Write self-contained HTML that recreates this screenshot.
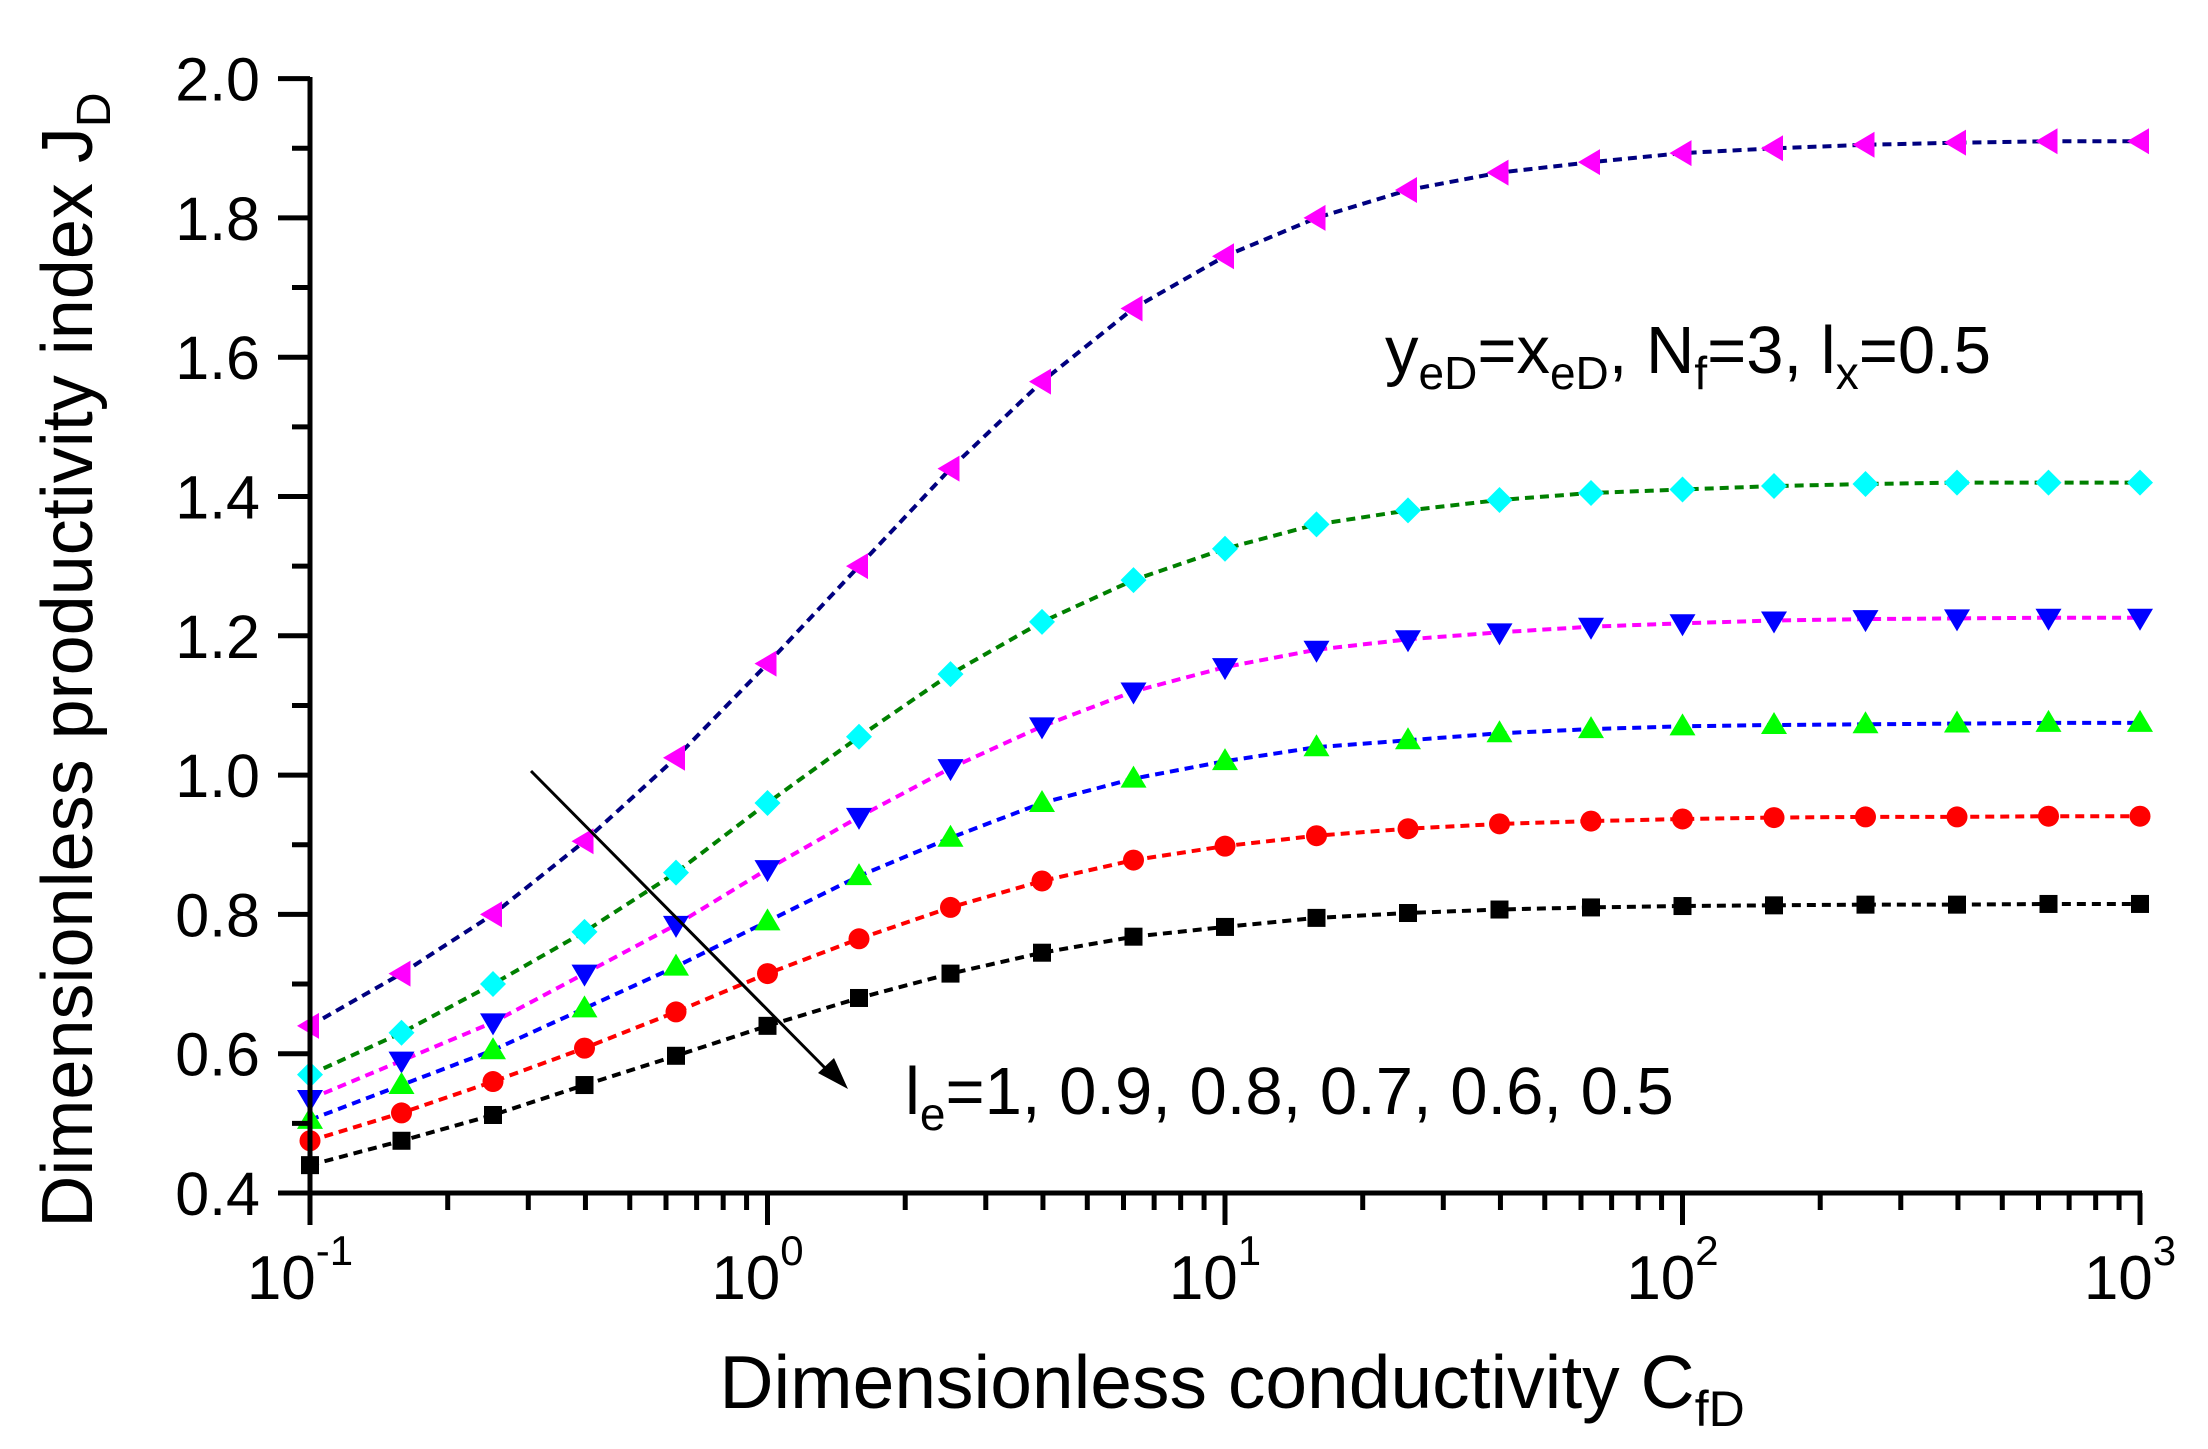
<!DOCTYPE html>
<html><head><meta charset="utf-8">
<style>html,body{margin:0;padding:0;background:#fff}svg{display:block}text{font-family:"Liberation Sans",Arial,sans-serif;fill:#000}</style>
</head><body>
<svg id="s" width="2208" height="1449" viewBox="0 0 2208 1449" xmlns="http://www.w3.org/2000/svg">
<g id="plot"></g>
<g font-size="67">
<text x="1385" y="373">y<tspan font-size="46" dy="16">eD</tspan><tspan dy="-16">=x</tspan><tspan font-size="46" dy="16">eD</tspan><tspan dy="-16">, N</tspan><tspan font-size="46" dy="16">f</tspan><tspan dy="-16">=3, l</tspan><tspan font-size="46" dy="16">x</tspan><tspan dy="-16">=0.5</tspan></text>
<text x="905" y="1114">l<tspan font-size="46" dy="16">e</tspan><tspan dy="-16">=1, 0.9, 0.8, 0.7, 0.6, 0.5</tspan></text>
</g>
<g font-size="72">
<text x="1232" y="1408" text-anchor="middle" font-size="75">Dimensionless conductivity C<tspan font-size="50" dy="18">fD</tspan></text>
<text transform="translate(92,660) rotate(-90)" text-anchor="middle">Dimensionless productivity index J<tspan font-size="48" dy="18">D</tspan></text>
</g>
</svg>
<script>
const X0=310,DEC=457.5,Y0=1193,YU=696.5;
const xp=l=>X0+(l+1)*DEC, yp=v=>Y0-(v-0.4)*YU;
let h='';
const D=[
 {m:'ltri',f:'#ff00ff',l:'#000080',v:[0.64,0.715,0.80,0.905,1.025,1.16,1.30,1.44,1.565,1.67,1.745,1.80,1.84,1.865,1.88,1.893,1.90,1.905,1.908,1.91,1.91]},
 {m:'dia',f:'#00ffff',l:'#008000',v:[0.57,0.63,0.70,0.775,0.86,0.96,1.055,1.145,1.22,1.28,1.325,1.36,1.38,1.395,1.405,1.41,1.415,1.418,1.42,1.42,1.42]},
 {m:'dtri',f:'#0000ff',l:'#ff00ff',v:[0.535,0.59,0.645,0.715,0.785,0.865,0.94,1.01,1.07,1.12,1.155,1.18,1.195,1.205,1.213,1.218,1.222,1.224,1.225,1.226,1.226]},
 {m:'utri',f:'#00ff00',l:'#0000ff',v:[0.505,0.555,0.605,0.665,0.725,0.79,0.855,0.91,0.96,0.995,1.02,1.04,1.05,1.06,1.066,1.07,1.072,1.073,1.074,1.075,1.075]},
 {m:'circ',f:'#ff0000',l:'#ff0000',v:[0.475,0.515,0.56,0.608,0.66,0.715,0.765,0.81,0.848,0.878,0.898,0.913,0.923,0.93,0.934,0.937,0.939,0.94,0.94,0.941,0.941]},
 {m:'sq',f:'#000000',l:'#000000',v:[0.44,0.475,0.512,0.555,0.597,0.64,0.68,0.715,0.745,0.768,0.782,0.795,0.802,0.807,0.81,0.812,0.813,0.814,0.814,0.815,0.815]}];
for(const s of D){
 const pts=s.v.map((v,k)=>[xp(-1+k*0.2),yp(v)]);
 h+=`<polyline points="${pts.map(p=>p[0].toFixed(1)+','+p[1].toFixed(1)).join(' ')}" fill="none" stroke="${s.l}" stroke-width="4" stroke-dasharray="9,6"/>`;
}
for(const s of D){
 s.v.forEach((v,k)=>{const x=xp(-1+k*0.2),y=yp(v),r=13;let e;
  if(s.m=='sq')e=`<rect x="${x-9}" y="${y-9}" width="18" height="18"/>`;
  else if(s.m=='circ')e=`<circle cx="${x}" cy="${y}" r="10.5"/>`;
  else if(s.m=='utri')e=`<polygon points="${x},${y-r} ${x+r},${y+9} ${x-r},${y+9}"/>`;
  else if(s.m=='dtri')e=`<polygon points="${x},${y+r} ${x+r},${y-9} ${x-r},${y-9}"/>`;
  else if(s.m=='ltri')e=`<polygon points="${x-r},${y} ${x+9},${y-r} ${x+9},${y+r}"/>`;
  else e=`<polygon points="${x},${y-r} ${x+r},${y} ${x},${y+r} ${x-r},${y}"/>`;
  h+=e.replace('/>',` fill="${s.f}"/>`);});
}
h+=`<g stroke="#000" stroke-width="5" fill="none"><line x1="${X0}" y1="77" x2="${X0}" y2="1195"/><line x1="${X0-2}" y1="${Y0}" x2="${xp(3)+2}" y2="${Y0}"/>`;
for(let i=0;i<=16;i++){const y=yp(0.4+i*0.1);h+=`<line x1="${X0}" y1="${y}" x2="${X0-(i%2?18:32)}" y2="${y}"/>`;}
for(let d=-1;d<=3;d++){h+=`<line x1="${xp(d)}" y1="${Y0}" x2="${xp(d)}" y2="${Y0+32}"/>`;
 if(d<3)for(let m=2;m<=9;m++){const x=xp(d+Math.log10(m));h+=`<line x1="${x}" y1="${Y0}" x2="${x}" y2="${Y0+17}"/>`;}}
h+='</g>';
for(let i=0;i<=8;i++){const v=0.4+i*0.2;h+=`<text x="260" y="${yp(v)+22}" font-size="61" text-anchor="end">${v.toFixed(1)}</text>`;}
for(let d=-1;d<=3;d++){const x=xp(d);h+=`<text x="${x-10}" y="${Y0+106}" font-size="62" text-anchor="middle">10<tspan font-size="42" dy="-34">${d<0?'-1':d}</tspan></text>`;}
h+=`<line x1="531" y1="771" x2="832" y2="1075" stroke="#000" stroke-width="3"/><polygon points="848,1089 818,1073 834,1058" fill="#000"/>`;
document.getElementById('plot').innerHTML=h;
</script>
</body></html>
